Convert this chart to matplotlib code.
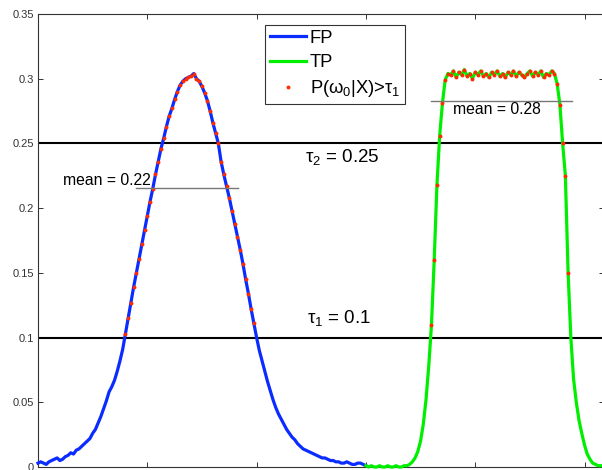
import numpy as np
import matplotlib
matplotlib.use("Agg")
import matplotlib.pyplot as plt

plt.rcParams['font.family'] = ['Liberation Sans', 'DejaVu Sans']
plt.rcParams['mathtext.fontset'] = 'custom'
plt.rcParams['mathtext.rm'] = 'Liberation Sans'
plt.rcParams['mathtext.it'] = 'Liberation Sans'

# ---- data ----
step = 0.025
fp_y = [0.003, 0.004, 0.003, 0.002, 0.004, 0.005, 0.006, 0.007, 0.005, 0.006,
        0.008, 0.009, 0.011, 0.010, 0.013, 0.014, 0.016, 0.018, 0.020, 0.022,
        0.026, 0.029, 0.034, 0.039, 0.045, 0.051, 0.058, 0.062, 0.067, 0.074,
        0.082, 0.091, 0.103, 0.115, 0.127, 0.139, 0.150, 0.161, 0.172, 0.183,
        0.194, 0.205, 0.215, 0.226, 0.236, 0.246, 0.254, 0.263, 0.271, 0.277,
        0.284, 0.290, 0.295, 0.298, 0.300, 0.301, 0.302, 0.304, 0.300, 0.298,
        0.294, 0.289, 0.283, 0.275, 0.266, 0.258, 0.250, 0.236, 0.226, 0.217,
        0.208, 0.198, 0.188, 0.178, 0.168, 0.157, 0.145, 0.134, 0.122, 0.111,
        0.100, 0.090, 0.082, 0.074, 0.066, 0.059, 0.052, 0.046, 0.041, 0.037,
        0.033, 0.029, 0.026, 0.023, 0.021, 0.018, 0.016, 0.014, 0.013, 0.012,
        0.011, 0.010, 0.009, 0.008, 0.007, 0.007, 0.006, 0.005, 0.005, 0.004,
        0.004, 0.003, 0.003, 0.004, 0.003, 0.002, 0.002, 0.003, 0.003, 0.002,
        0.001]
fp_start = 0.0

tp_y = [0.001, 0.000, 0.001, 0.000, 0.000, 0.001, 0.000, 0.000, 0.001, 0.000,
        0.000, 0.001, 0.000, 0.000, 0.001, 0.001, 0.002, 0.004, 0.007, 0.012,
        0.020, 0.033, 0.052, 0.078, 0.110, 0.160, 0.218, 0.256, 0.281, 0.299,
        0.304, 0.303, 0.306, 0.301, 0.305, 0.303, 0.307, 0.302, 0.304, 0.300,
        0.305, 0.303, 0.306, 0.302, 0.304, 0.301, 0.305, 0.303, 0.306, 0.302,
        0.304, 0.301, 0.305, 0.303, 0.306, 0.302, 0.305, 0.303, 0.301, 0.304,
        0.306, 0.302, 0.305, 0.303, 0.306, 0.301, 0.304, 0.303, 0.306, 0.304,
        0.296, 0.280, 0.250, 0.225, 0.150, 0.100, 0.068, 0.050, 0.036, 0.026,
        0.017, 0.010, 0.006, 0.003, 0.002, 0.001, 0.001]
tp_start = 3.0

tau1 = 0.1
tau2 = 0.25
fp_mean = 0.2156
tp_mean = 0.283
fp_mean_span = (0.897, 1.83)
tp_mean_span = (3.595, 4.886)

ytick_vals = [0, 0.05, 0.1, 0.15, 0.2, 0.25, 0.3, 0.35]
ytick_labels = ['0', '0.05', '0.1', '0.15', '0.2', '0.25', '0.3', '0.35']
xtick_vals = [0, 1, 2, 3, 4, 5]

fp_x = fp_start + np.arange(len(fp_y)) * step
tp_x = tp_start + np.arange(len(tp_y)) * step
fp_y = np.array(fp_y)
tp_y = np.array(tp_y)

# ---- figure ----
fig = plt.figure(figsize=(6.02, 4.70), dpi=100)
W, H = 602, 470
ax = fig.add_axes([38 / W, 3 / H, (604 - 38) / W, (467 - 14) / H])
ax.set_xlim(0, 566 / 109.3)
ax.set_ylim(0, 0.35)

blue = '#0a2cff'
green = '#00ee00'
red = '#ff2a00'

l_fp, = ax.plot(fp_x, fp_y, color=blue, lw=2.3, clip_on=False, zorder=3)
l_tp, = ax.plot(tp_x, tp_y, color=green, lw=2.3, clip_on=False, zorder=3)

sel_fp = fp_y > tau1
sel_tp = tp_y > tau1
px = np.concatenate([fp_x[sel_fp], tp_x[sel_tp]])
py = np.concatenate([fp_y[sel_fp], tp_y[sel_tp]])
l_p, = ax.plot(px, py, ls='none', marker='o', ms=2.8, mew=0, color=red, zorder=4)

ax.axhline(tau2, color='black', lw=1.5, zorder=2)
ax.axhline(tau1, color='black', lw=1.5, zorder=2)

ax.plot(fp_mean_span, [fp_mean, fp_mean], color='#777777', lw=1.0, zorder=5)
ax.plot(tp_mean_span, [tp_mean, tp_mean], color='#777777', lw=1.0, zorder=5)

ax.text(0.229, 0.2175, 'mean = %.2f' % fp_mean, fontsize=11.3, va='baseline', ha='left', zorder=6)
ax.text(3.797, 0.2727, 'mean = %.2f' % tp_mean, fontsize=11.3, va='baseline', ha='left', zorder=6)

ax.text(2.443, 0.2357, r'$\mathregular{τ_2}$ = %g' % tau2, fontsize=13.5, va='baseline', ha='left')
ax.text(2.46, 0.1113, r'$\mathregular{τ_1}$ = %g' % tau1, fontsize=13.5, va='baseline', ha='left')

ax.set_yticks(ytick_vals)
ax.set_yticklabels(ytick_labels)
ax.set_xticks(xtick_vals)
ax.set_xticklabels([])
ax.tick_params(direction='in', length=3.6, width=0.7, top=True, right=True,
               labelsize=8, pad=3, colors='#333333', labelcolor='#333333')
for s in ax.spines.values():
    s.set_color('#333333')
    s.set_linewidth(0.8)

leg = ax.legend([l_fp, l_tp, l_p], ['FP', 'TP', r'P($\mathregular{ω_0}$|X)>$\mathregular{τ_1}$'],
                loc='upper left', bbox_to_anchor=((265 - 38) / 566, (467 - 25) / 453),
                borderaxespad=0, fontsize=13.2, frameon=True, fancybox=False,
                edgecolor='black', handlelength=2.0, handletextpad=0.2,
                labelspacing=0.4, borderpad=0.25, markerscale=1.0)
leg.get_frame().set_linewidth(0.8)

fig.savefig('out.png', dpi=100)
